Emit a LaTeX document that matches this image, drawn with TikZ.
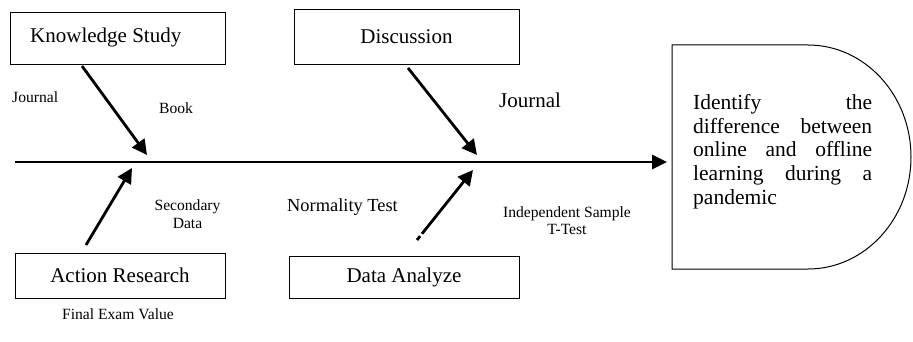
\documentclass[tikz,border=0pt]{standalone}
\usepackage{fontspec}
\setmainfont{Liberation Serif}
\usetikzlibrary{arrows.meta}
\tikzset{
  box/.style={draw, line width=0.9pt, inner sep=0pt, font=\fontsize{21}{24}\selectfont},
  diag/.style={line width=2.8pt, -{Triangle[length=15pt,width=15pt]}},
  mainarrow/.style={line width=2.6pt, -{Triangle[length=15pt,width=14pt]}},
  small/.style={inner sep=0pt, font=\fontsize{15.6}{17.5}\selectfont, align=center},
  mid/.style={inner sep=0pt, font=\fontsize{18.4}{21}\selectfont},
  big/.style={inner sep=0pt, font=\fontsize{21}{24}\selectfont},
}
\begin{document}
\begin{tikzpicture}[x=1pt,y=-1pt]
\useasboundingbox (0,0) rectangle (913,342);
% boxes
\node[box, minimum width=215pt, minimum height=52pt] (ks) at (117.5,38) {};
\node[big, anchor=west] (kstext) at (30,37) {Knowledge Study};
\node[box, minimum width=225pt, minimum height=55pt] (disc) at (406.5,36.5) {Discussion};
\node[box, minimum width=210pt, minimum height=45pt] (ar) at (120,275.5) {Action Research};
\node[box, minimum width=230pt, minimum height=42pt] (da) at (404,277) {Data Analyze};
% result shape
\draw[line width=1pt] (672,45) -- (808,45) arc[start angle=90, end angle=-90, x radius=103pt, y radius=112pt] -- (672,269) -- cycle;
\coordinate (res) at (672,162);
\node[inner sep=0pt, anchor=north west, align=left, font=\fontsize{21.5}{23.7}\selectfont] (goal) at (693,94)
 {\makebox[179pt][s]{Identify the}\\
  \makebox[179pt][s]{difference between}\\
  \makebox[179pt][s]{online and offline}\\
  \makebox[179pt][s]{learning during a}\\
  pandemic};
% spine
\coordinate (spine) at (15,162);
\draw[mainarrow, shorten >=5pt] (spine) -- (res);
% diagonal arrows
\coordinate (a1s) at (82,66);
\coordinate (a1e) at (147,155);
\coordinate (a2s) at (408,68);
\coordinate (a2e) at (477,155);
\coordinate (a3s) at (86,245);
\coordinate (a3e) at (132,168);
\coordinate (a4s) at (417,240);
\coordinate (a4e) at (473,170);
\draw[diag] (a1s) -- (a1e);
\draw[diag] (a2s) -- (a2e);
\draw[diag] (a3s) -- (a3e);
\draw[diag, dash pattern=on 5pt off 3pt on 300pt] (a4s) -- (a4e);
% labels
\node[small, anchor=west] (j1) at (12,97) {Journal};
\node[small, anchor=west] (book) at (159,108) {Book};
\node[big, anchor=west] (j2) at (499,100) {Journal};
\node[small] (sd) at (187.5,214) {Secondary\\Data};
\node[mid, anchor=west] (nt) at (287,207) {Normality Test};
\node[small] (ist) at (567,220.5) {Independent Sample\\T-Test};
\node[small] (fev) at (118,314) {Final Exam Value};
\end{tikzpicture}
\end{document}
